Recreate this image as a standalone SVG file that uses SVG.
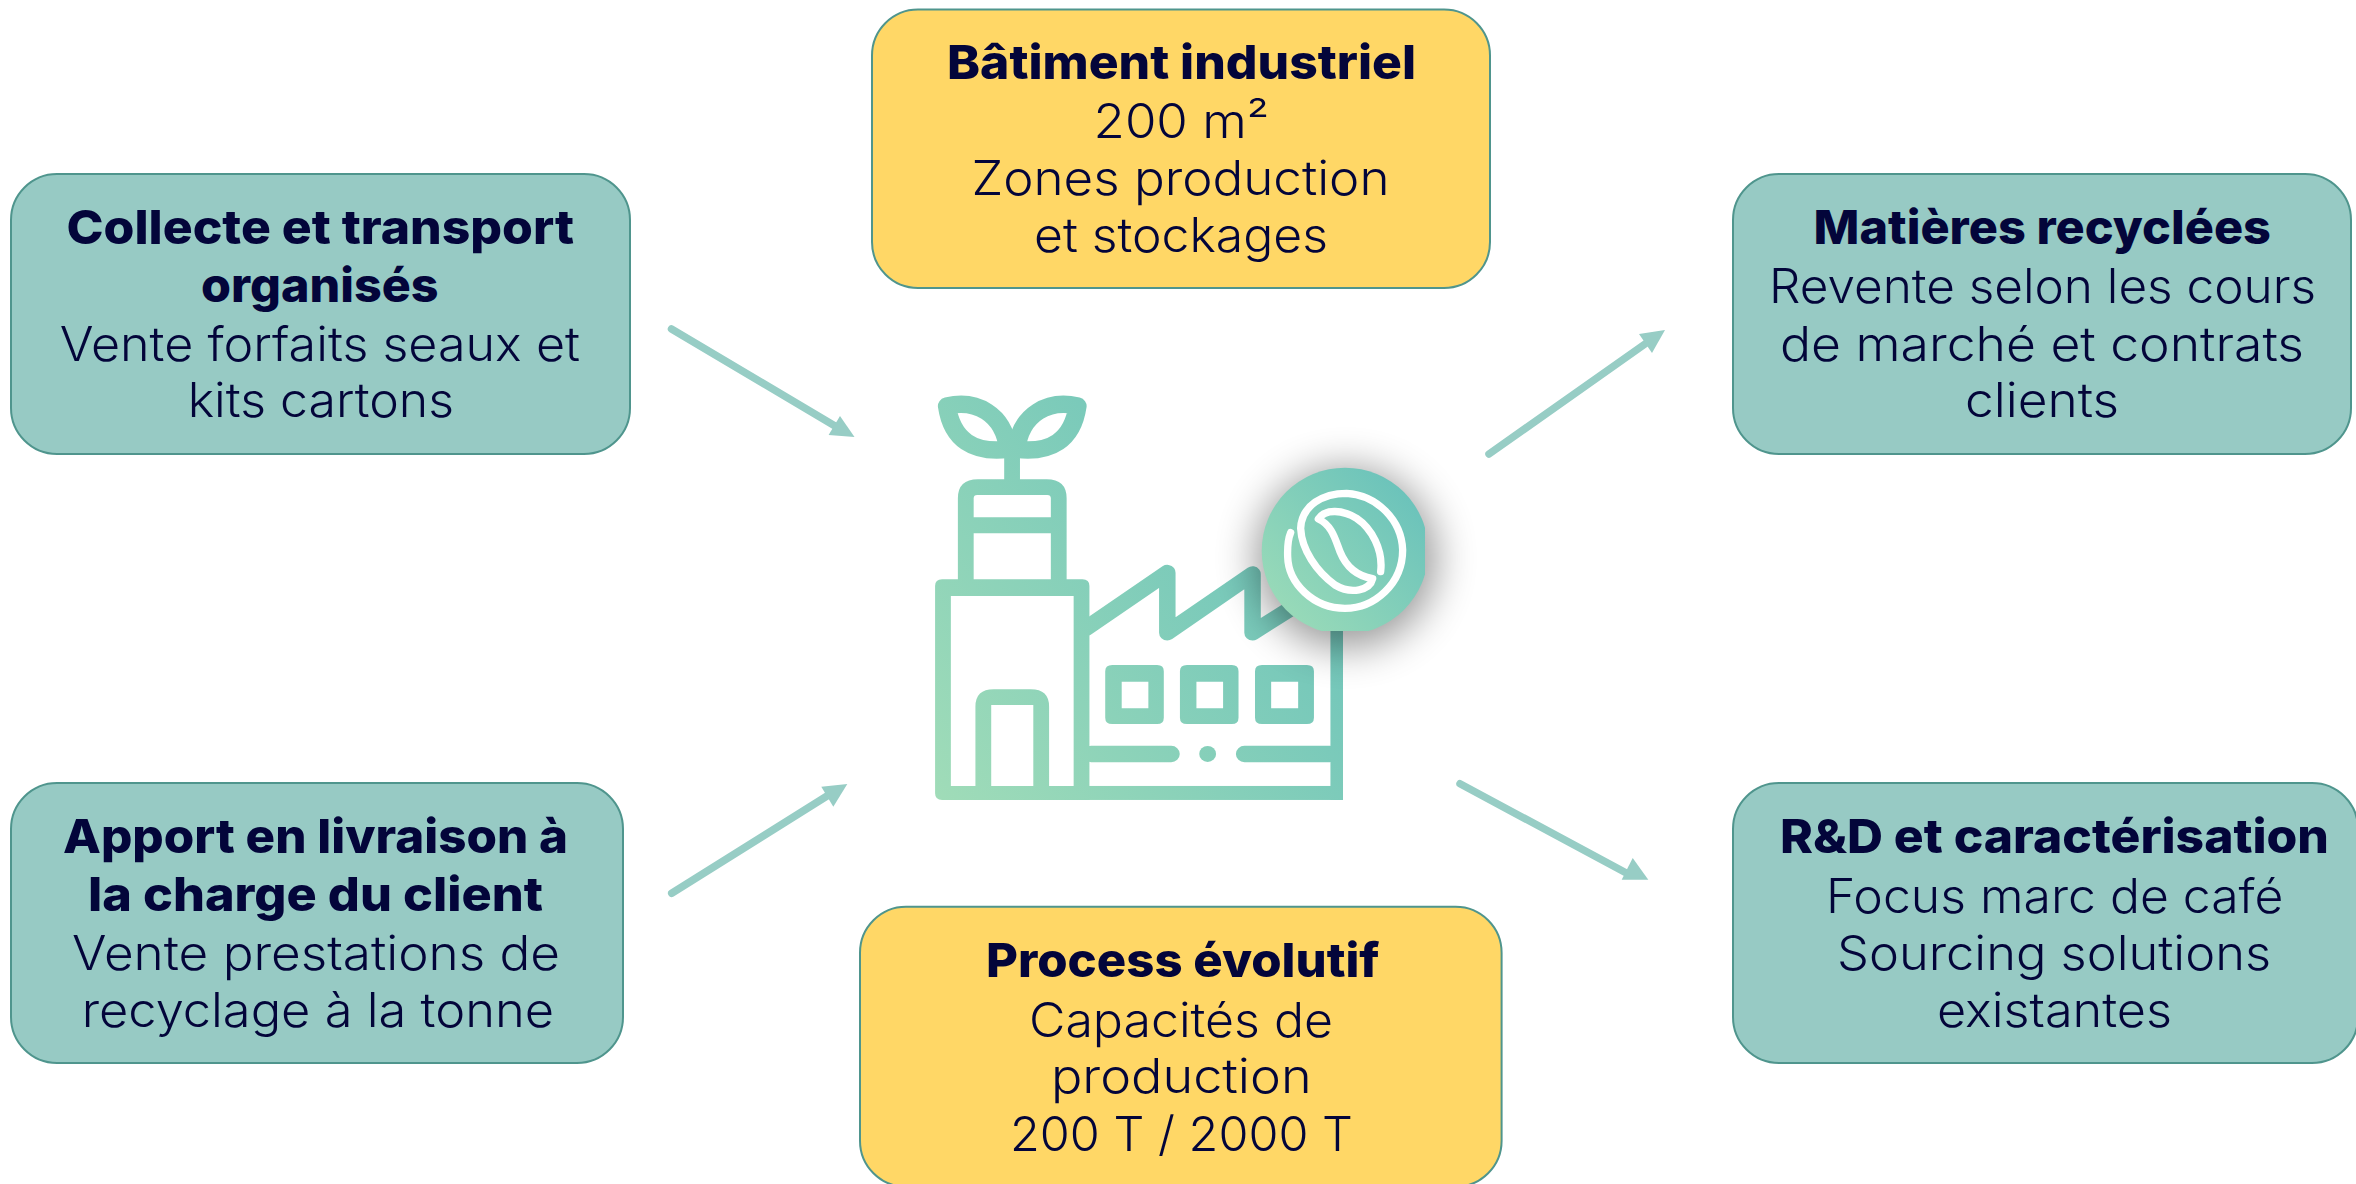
<svg xmlns="http://www.w3.org/2000/svg" width="2356" height="1184" viewBox="0 0 2356 1184">
<style>
.teal{fill:#97cac4;stroke:#4f958d;stroke-width:2}
.yellow{fill:#ffd766;stroke:#4f958d;stroke-width:2}
text{font-family:"Inter","Noto Sans","Liberation Sans",sans-serif;font-size:48px;fill:#03053a;font-weight:350}
text.b{font-weight:800;font-size:47px}
.shaft{stroke:#97cdc5;stroke-width:7.5;stroke-linecap:round;fill:none}
.head{fill:#97cdc5}
.ico{fill:url(#g)}
.ist{fill:none;stroke:url(#g);stroke-linejoin:round;stroke-linecap:round}
</style>
<defs>
<linearGradient id="g" gradientUnits="userSpaceOnUse" x1="100" y1="1290" x2="1400" y2="400"><stop offset="0" stop-color="#a0dcb8"/><stop offset="1" stop-color="#66c0bb"/></linearGradient>
<linearGradient id="g2" gradientUnits="userSpaceOnUse" x1="1270" y1="620" x2="1425" y2="480"><stop offset="0" stop-color="#9cdcb8"/><stop offset="1" stop-color="#66c0bb"/></linearGradient>
<clipPath id="icoclip"><rect x="0" y="0" width="1263" height="1290"/></clipPath>
<clipPath id="cclip"><rect x="1200" y="440" width="225" height="191"/></clipPath>
<filter id="blur" x="-80%" y="-80%" width="260%" height="260%"><feGaussianBlur stdDeviation="20"/></filter>
</defs>
<rect width="2356" height="1184" fill="#fff"/>

<g id="connectors">
<line class="shaft" x1="671.5" y1="329" x2="835" y2="426"/><polygon class="head" points="840,416 854.5,437 828.6,435"/>
<line class="shaft" x1="1489" y1="454" x2="1645" y2="344"/><polygon class="head" points="1639,334 1665,330 1652,353"/>
<line class="shaft" x1="671.7" y1="893.3" x2="827" y2="796"/><polygon class="head" points="821.3,786.7 847.3,784 833.3,806.7"/>
<line class="shaft" x1="1460" y1="783.7" x2="1630" y2="875"/><polygon class="head" points="1632.7,858 1648.3,879.7 1621.7,879.7"/>
</g>

<g id="factory">
<g transform="translate(900 370) scale(.3508 .3333)" clip-path="url(#icoclip)">
<path class="ist" stroke-width="52" d="M134 108C215 88 296 130 308 238C210 250 148 210 134 108Z"/>
<path class="ist" stroke-width="52" d="M506 108C425 88 344 130 332 238C430 250 492 210 506 108Z"/>
<rect class="ico" x="297" y="245" width="45" height="90"/>
<path class="ico" fill-rule="evenodd" d="M165 635V385Q165 328 222 328H418Q475 328 475 385V635ZM210 635H430V490H210ZM220 375H420Q430 375 430 385V442H210V385Q210 375 220 375Z"/>
<path class="ico" fill-rule="evenodd" d="M120 628H520Q540 628 540 648V1290H120Q100 1290 100 1270V648Q100 628 120 628ZM145 678V1248H495V678Z"/>
<path class="ico" fill-rule="evenodd" d="M215 1250V1010Q215 958 267 958H373Q425 958 425 1010V1250ZM260 1250H380V1005H260Z"/>
<path class="ist" stroke-width="47" d="M530 775L762 608V788L1005 612V788L1120 712"/>
<rect class="ico" x="1227" y="760" width="36" height="530"/>
<rect class="ico" x="535" y="1248" width="728" height="42"/>
<g id="windows">
<path class="ico" fill-rule="evenodd" d="M605 885H733Q752 885 752 904V1043Q752 1062 733 1062H605Q585 1062 585 1043V904Q585 885 605 885ZM632 935V1015H708V935Z"/>
<path class="ico" fill-rule="evenodd" d="M818 885H946Q965 885 965 904V1043Q965 1062 946 1062H818Q798 1062 798 1043V904Q798 885 818 885ZM845 935V1015H921V935Z"/>
<path class="ico" fill-rule="evenodd" d="M1032 885H1160Q1180 885 1180 904V1043Q1180 1062 1160 1062H1032Q1012 1062 1012 1043V904Q1012 885 1032 885ZM1058 935V1015H1135V935Z"/>
</g>
<path class="ist" stroke-width="49" d="M545 1152H773M982 1152H1225"/>
<circle class="ico" cx="877" cy="1152" r="24"/>
</g>
</g>

<g id="coffee-badge">
<circle cx="1346" cy="558" r="90" fill="#000" opacity=".4" filter="url(#blur)"/>
<circle cx="1345" cy="551" r="83.3" fill="url(#g2)" clip-path="url(#cclip)"/>
<path transform="translate(1220 450) scale(.3333)" fill="none" stroke="#fff" stroke-width="22" stroke-linecap="round" stroke-linejoin="round" d="M482 365C490 300 455 235 410 205C370 180 315 175 295 207C335 225 345 265 360 305C378 350 410 378 458 386C450 420 395 435 345 405C290 365 245 300 242 235C245 165 310 130 380 130C470 135 545 210 548 300C548 400 465 475 375 475C280 475 205 400 203 320C202 290 205 265 212 248"/>
</g>

<g id="node-collecte">
<rect class="teal" x="11" y="174" width="619" height="280" rx="46"/>
<text class="b" x="66.5" y="243.5" textLength="507.5" lengthAdjust="spacingAndGlyphs">Collecte et transport</text>
<text class="b" x="201" y="301.5" textLength="237.5" lengthAdjust="spacingAndGlyphs">organisés</text>
<text x="59.7" y="360.5" textLength="520.3" lengthAdjust="spacingAndGlyphs">Vente forfaits seaux et</text>
<text x="187.7" y="417" textLength="266.3" lengthAdjust="spacingAndGlyphs">kits cartons</text>
</g>

<g id="node-apport">
<rect class="teal" x="11" y="783" width="612" height="280" rx="46"/>
<text class="b" x="63" y="852.7" textLength="505" lengthAdjust="spacingAndGlyphs">Apport en livraison à</text>
<text class="b" x="88" y="910.7" textLength="455" lengthAdjust="spacingAndGlyphs">la charge du client</text>
<text x="72" y="970" textLength="488" lengthAdjust="spacingAndGlyphs">Vente prestations de</text>
<text x="81.7" y="1026.7" textLength="472.3" lengthAdjust="spacingAndGlyphs">recyclage à la tonne</text>
</g>

<g id="node-batiment">
<rect class="yellow" x="872" y="9.5" width="618" height="278.5" rx="46"/>
<text class="b" x="947" y="79" textLength="469" lengthAdjust="spacingAndGlyphs">Bâtiment industriel</text>
<text x="1093.6" y="137.7" textLength="175.4" lengthAdjust="spacingAndGlyphs">200 m²</text>
<text x="971.4" y="195" textLength="418.1" lengthAdjust="spacingAndGlyphs">Zones production</text>
<text x="1034" y="251.7" textLength="294" lengthAdjust="spacingAndGlyphs">et stockages</text>
</g>

<g id="node-process">
<rect class="yellow" x="860" y="906.7" width="641.6" height="280" rx="46"/>
<text class="b" x="986" y="977.3" textLength="393.4" lengthAdjust="spacingAndGlyphs">Process évolutif</text>
<text x="1029" y="1036.7" textLength="304" lengthAdjust="spacingAndGlyphs">Capacités de</text>
<text x="1050.9" y="1092.7" textLength="260.7" lengthAdjust="spacingAndGlyphs">production</text>
<text x="1010" y="1151" textLength="343" lengthAdjust="spacingAndGlyphs">200 T / 2000 T</text>
</g>

<g id="node-matieres">
<rect class="teal" x="1733" y="174" width="618" height="280" rx="46"/>
<text class="b" x="1813.6" y="243.5" textLength="457.4" lengthAdjust="spacingAndGlyphs">Matières recyclées</text>
<text x="1769" y="302.5" textLength="547" lengthAdjust="spacingAndGlyphs">Revente selon les cours</text>
<text x="1780" y="360.5" textLength="524" lengthAdjust="spacingAndGlyphs">de marché et contrats</text>
<text x="1965" y="417" textLength="154" lengthAdjust="spacingAndGlyphs">clients</text>
</g>

<g id="node-rd">
<rect class="teal" x="1733" y="783" width="625" height="280" rx="46"/>
<text class="b" x="1780" y="853" textLength="549" lengthAdjust="spacingAndGlyphs">R&amp;D et caractérisation</text>
<text x="1826" y="912.7" textLength="457.5" lengthAdjust="spacingAndGlyphs">Focus marc de café</text>
<text x="1837" y="970" textLength="434" lengthAdjust="spacingAndGlyphs">Sourcing solutions</text>
<text x="1937" y="1026.7" textLength="235" lengthAdjust="spacingAndGlyphs">existantes</text>
</g>
</svg>
